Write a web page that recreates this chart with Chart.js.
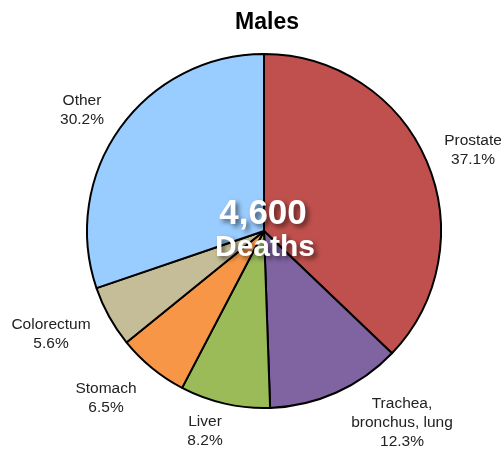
<!DOCTYPE html>
<html>
<head>
<meta charset="utf-8">
<script src="https://cdn.jsdelivr.net/npm/chart.js@4.4.1/dist/chart.umd.min.js"></script>
<style>
  html, body { margin: 0; padding: 0; background: #fff; }
  #wrap { width: 501px; height: 451px; position: relative; }
</style>
</head>
<body>
<div id="wrap"><canvas id="chart-males"></canvas></div>
<script>
// data
const causes = ['Prostate', 'Trachea, bronchus, lung', 'Liver', 'Stomach', 'Colorectum', 'Other'];
const shares = [37.1, 12.3, 8.2, 6.5, 5.6, 30.2];
const sliceColors = ['#c0504d', '#8064a2', '#9bbb59', '#f79646', '#c4bd97', '#99ccff'];
const labelLines = [['Prostate'], ['Trachea,', 'bronchus, lung'], ['Liver'], ['Stomach'], ['Colorectum'], ['Other']];
const totalDeaths = '4,600';

// where each label sits, relative to the pie centre
const labelOffsets = [[209, -81], [138, 192], [-59, 200], [-158, 167], [-213, 103], [-182, -121]];

const overlay = {
  id: 'overlay',
  afterDraw(chart) {
    const ctx = chart.ctx;
    const arc = chart.getDatasetMeta(0).data[0];
    const cx = arc.x, cy = arc.y;
    ctx.save();
    ctx.textAlign = 'center';
    ctx.textBaseline = 'middle';

    // title
    ctx.fillStyle = '#000';
    ctx.font = 'bold 23px "Liberation Sans", Arial, sans-serif';
    ctx.fillText('Males', 267, 23);

    // slice labels
    ctx.fillStyle = '#222';
    ctx.font = '15.5px "Liberation Sans", Arial, sans-serif';
    const lh = 19;
    causes.forEach((c, i) => {
      const lines = labelLines[i].concat([shares[i].toFixed(1) + '%']);
      const x = cx + labelOffsets[i][0];
      const y0 = cy + labelOffsets[i][1] - (lines.length - 1) * lh / 2;
      lines.forEach((l, k) => ctx.fillText(l, x, y0 + k * lh));
    });

    // centre text
    ctx.shadowColor = 'rgba(0,0,0,0.55)';
    ctx.shadowBlur = 5;
    ctx.shadowOffsetX = 3;
    ctx.shadowOffsetY = 3;
    ctx.fillStyle = '#fff';
    ctx.font = 'bold 35px "Liberation Sans", Arial, sans-serif';
    ctx.fillText(totalDeaths, cx - 1, cy - 17);
    ctx.font = 'bold 30px "Liberation Sans", Arial, sans-serif';
    ctx.fillText('Deaths', cx + 1, cy + 17);
    ctx.restore();
  }
};

new Chart(document.getElementById('chart-males'), {
  type: 'pie',
  data: {
    labels: causes,
    datasets: [{ data: shares, backgroundColor: sliceColors, borderColor: '#000', borderWidth: 2 }]
  },
  options: {
    responsive: true, maintainAspectRatio: false, animation: false,
    layout: { padding: { left: 86, right: 59, top: 53, bottom: 42 } },
    plugins: { legend: { display: false }, tooltip: { enabled: false }, title: { display: false } }
  },
  plugins: [overlay]
});
</script>
</body>
</html>
